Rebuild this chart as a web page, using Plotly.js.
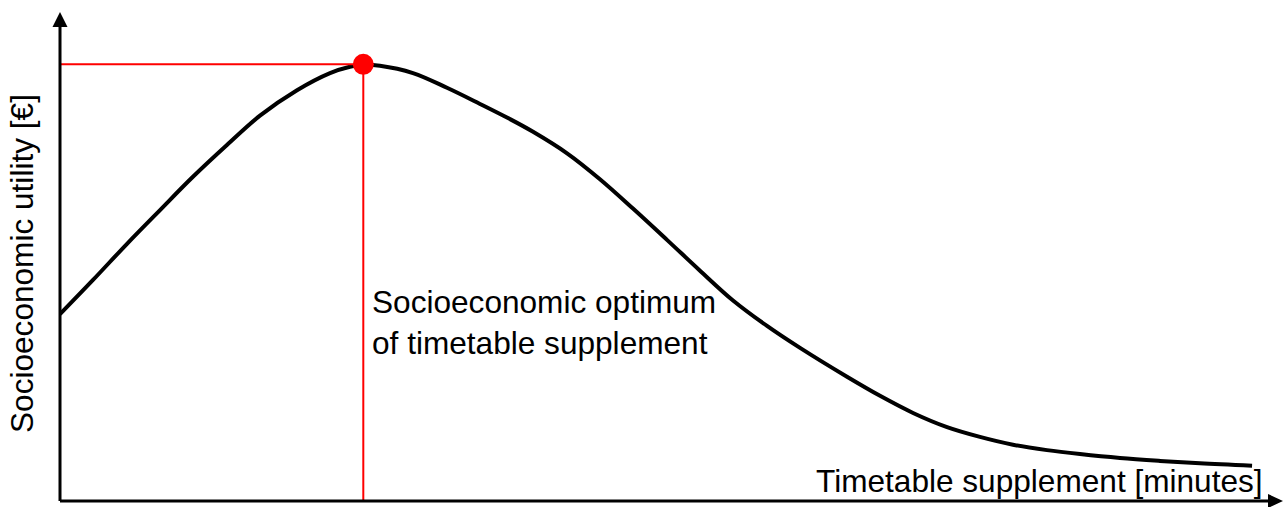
<!DOCTYPE html>
<html>
<head>
<meta charset="utf-8">
<script src="https://cdn.plot.ly/plotly-3.0.1.min.js"></script>
<style>
html,body{margin:0;padding:0;background:#fff;}
#chart{width:1285px;height:507px;}
</style>
</head>
<body>
<div id="chart"></div>
<script>
// Data (arbitrary units, 0-100 on both axes)
const supplement = [0, 2.70, 5.48, 8.18, 10.87, 13.65, 16.35, 19.38, 22.08, 23.71, 24.78, 26.16, 28.86, 31.64, 34.34, 36.79, 38.68, 41.46, 44.15, 46.85, 49.63, 52.33, 55.03, 57.81, 60.51, 64.35, 67.05, 69.75, 72.53, 75.22, 77.92, 80.70, 83.40, 86.67, 89.94, 93.21, 97.47];
const utility = [38.2, 45.2, 52.6, 59.5, 66.3, 72.8, 78.8, 84.0, 87.5, 88.8, 89.2, 89.0, 87.5, 84.5, 81.2, 78.1, 75.5, 71.1, 65.8, 59.8, 53.4, 47.1, 41.0, 35.8, 31.3, 25.4, 21.5, 18.0, 15.1, 13.1, 11.5, 10.4, 9.6, 8.8, 8.2, 7.7, 7.2];
const optimumX = [24.8];
const optimumY = [89.3];
const xTitle = "Timetable supplement [minutes]";
const yTitle = "Socioeconomic utility [€]";
const optimumLabel = ["Socioeconomic optimum", "of timetable supplement"];

const FONT = "Liberation Sans, Arial, Helvetica, sans-serif";
const FS = 31.6;
const W = 1285, H = 507;
const M = {l: 60, r: 2, t: 12, b: 6};
const plotW = W - M.l - M.r, plotH = H - M.t - M.b;

const traces = [
  {x: supplement, y: utility, mode: "lines", type: "scatter",
   line: {color: "#000000", width: 4, shape: "spline", smoothing: 1},
   cliponaxis: false, hoverinfo: "skip"},
  {x: [0, optimumX[0]], y: [optimumY[0], optimumY[0]], mode: "lines", type: "scatter",
   line: {color: "#ff0000", width: 2}, cliponaxis: false, hoverinfo: "skip"},
  {x: [optimumX[0], optimumX[0]], y: [0, optimumY[0]], mode: "lines", type: "scatter",
   line: {color: "#ff0000", width: 2}, cliponaxis: false, hoverinfo: "skip"},
  {x: optimumX, y: optimumY, mode: "markers", type: "scatter",
   marker: {color: "#ff0000", size: 21}, cliponaxis: false, hoverinfo: "skip"}
];

const ax = 15 / plotW, ay = 15 / plotH;
const shapes = [
  {type: "line", xref: "paper", yref: "paper", x0: 0, x1: 0, y0: 0, y1: 1 - ay,
   line: {color: "#000", width: 3}},
  {type: "line", xref: "paper", yref: "paper", x0: 0, x1: 1 - ax, y0: 0, y1: 0,
   line: {color: "#000", width: 3}},
  {type: "path", xref: "paper", yref: "paper",
   path: `M ${-7.5/plotW},${1-ay} L ${7.5/plotW},${1-ay} L 0,1 Z`,
   fillcolor: "#000", line: {color: "#000", width: 0}},
  {type: "path", xref: "paper", yref: "paper",
   path: `M ${1-ax},${-7/plotH} L ${1-ax},${7/plotH} L 1,0 Z`,
   fillcolor: "#000", line: {color: "#000", width: 0}}
];

const annotations = [
  {text: yTitle, xref: "paper", yref: "paper", x: 0, y: (H - M.b - 264) / plotH,
   xanchor: "center", yanchor: "middle", xshift: -38, textangle: -90,
   showarrow: false, font: {family: FONT, size: FS, color: "#000"}},
  {text: xTitle, xref: "paper", yref: "paper", x: 1, y: 0,
   xanchor: "right", yanchor: "middle", xshift: -18, yshift: 20,
   showarrow: false, font: {family: FONT, size: FS, color: "#000"}},
  {text: optimumLabel.join("<br>"), xref: "x", yref: "y", x: optimumX[0], y: 36.6,
   xanchor: "left", yanchor: "middle", align: "left", xshift: 7,
   showarrow: false, font: {family: FONT, size: FS, color: "#000"}}
];

const axisBase = {range: [0, 100], showgrid: false, zeroline: false, showline: false,
  showticklabels: false, ticks: "", fixedrange: true};

const layout = {
  width: W, height: H, margin: M,
  paper_bgcolor: "#fff", plot_bgcolor: "#fff",
  showlegend: false,
  xaxis: Object.assign({}, axisBase),
  yaxis: Object.assign({}, axisBase),
  shapes: shapes, annotations: annotations,
  font: {family: FONT}
};

Plotly.newPlot("chart", traces, layout, {displayModeBar: false, staticPlot: true});
</script>
</body>
</html>
